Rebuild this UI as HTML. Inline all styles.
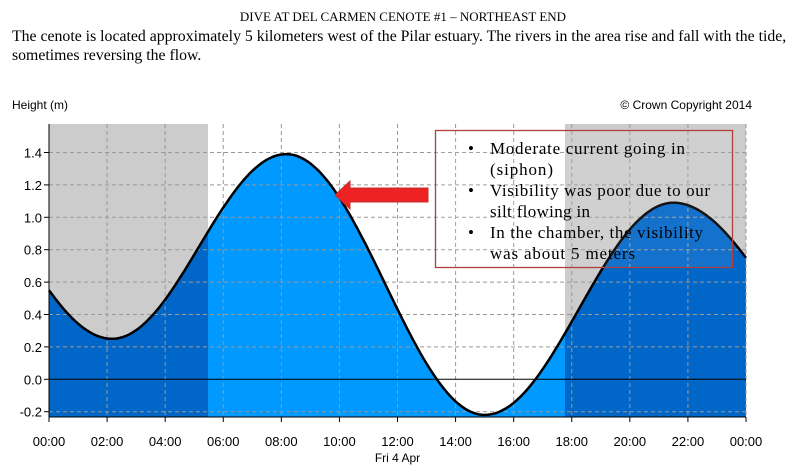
<!DOCTYPE html>
<html><head><style>
body{margin:0;width:806px;height:469px;background:#fff;overflow:hidden;position:relative}
.t{position:absolute;font-family:"Liberation Serif",serif;color:#000;white-space:nowrap}
</style></head><body>
<div class="t" style="left:0;width:806px;text-align:center;top:9px;font-size:13px">DIVE AT DEL CARMEN CENOTE #1 – NORTHEAST END</div>
<div class="t" style="left:12px;top:27px;font-size:15.8px;line-height:19px">The cenote is located approximately 5 kilometers west of the Pilar estuary. The rivers in the area rise and fall with the tide,<br>sometimes reversing the flow.</div>
<svg id="s" width="806" height="469" style="position:absolute;left:0;top:0" font-family="Liberation Sans, sans-serif" font-size="12"></svg>
<script>
const X=t=>49+t*697/24, Y=v=>379.3-162*v;
const ex=[[-4,1.34],[2.17,0.25],[8.17,1.39],[15,-0.22],[21.5,1.09],[28,0.036]];
function f(t){for(let i=0;i<ex.length-1;i++){const[a,va]=ex[i],[b,vb]=ex[i+1];if(t>=a&&t<=b)return va+(vb-va)*(1-Math.cos(Math.PI*(t-a)/(b-a)))/2;}return 0;}
let pts=[];for(let t=0;t<=24.001;t+=0.1)pts.push(X(t).toFixed(1)+','+Y(f(t)).toFixed(1));
const line='M'+pts.join(' L');
const area=line+` L746,417 L49,417 Z`;
let g='';
g+=`<rect x="49" y="124" width="159" height="293" fill="#cccccc"/><rect x="565" y="124" width="181" height="293" fill="#cccccc"/>`;
g+=`<clipPath id="c"><path d="${area}"/></clipPath>`;
g+=`<g clip-path="url(#c)"><rect x="49" y="120" width="697" height="300" fill="#0066c8"/><rect x="208" y="120" width="357" height="300" fill="#0099ff"/></g>`;
for(let h=2;h<=24;h+=2){g+=`<line x1="${X(h)}" y1="124" x2="${X(h)}" y2="417" stroke="#999" stroke-dasharray="4,3"/>`;}
for(let v=-0.2;v<1.5;v+=0.2){if(Math.abs(v)<0.01)continue;g+=`<line x1="49" y1="${Y(v)}" x2="746" y2="${Y(v)}" stroke="#999" stroke-dasharray="4,3"/>`;}
g+=`<line x1="49" y1="${Y(0)}" x2="746" y2="${Y(0)}" stroke="#000"/>`;
g+=`<path d="${line}" fill="none" stroke="#000" stroke-width="2.5"/>`;
g+=`<line x1="49" y1="124" x2="49" y2="417" stroke="#000"/><line x1="49" y1="417" x2="746" y2="417" stroke="#000"/>`;
for(let v=-0.2;v<1.5;v+=0.2){const y=Y(v);g+=`<line x1="44" y1="${y}" x2="49" y2="${y}" stroke="#000"/><text x="42" y="${y+5}" text-anchor="end" font-size="13">${v.toFixed(1)}</text>`;}
for(let h=0;h<=24;h+=2){const x=X(h);g+=`<line x1="${x}" y1="417" x2="${x}" y2="422" stroke="#000"/><text x="${x}" y="446" text-anchor="middle" font-size="13">${String(h%24).padStart(2,'0')}:00</text>`;}
g+=`<text x="${X(12)}" y="462" text-anchor="middle">Fri 4 Apr</text>`;
g+=`<text x="12" y="109">Height (m)</text><text x="752" y="109" text-anchor="end">© Crown Copyright 2014</text>`;
g+=`<rect x="435.5" y="130.5" width="297" height="137" fill="rgba(255,255,255,0.08)" stroke="#b04040" stroke-width="1.3"/>`;
g+=`<polygon points="335,195 350,181 350,188 428,188 428,202 350,202 350,209" fill="#ee2222" stroke="#c03030"/>`;
const ln=[[1,'Moderate current going in',195],[0,'(siphon)',63],[1,'Visibility was poor due to our',220],[0,'silt flowing in',100],[1,'In the chamber, the visibility',213],[0,'was about 5 meters',145]];
ln.forEach((l,i)=>{const y=154+i*21;if(l[0])g+=`<text x="468" y="${y}" font-family="Liberation Serif, serif" font-size="17">•</text>`;g+=`<text x="490" y="${y}" font-family="Liberation Serif, serif" font-size="17" textLength="${l[2]}" lengthAdjust="spacing">${l[1]}</text>`;});
document.getElementById('s').innerHTML=g;
</script>
</body></html>
